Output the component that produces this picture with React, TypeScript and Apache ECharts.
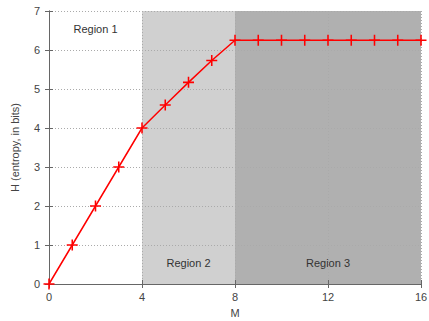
import React, { useEffect, useRef } from "react";
import * as echarts from "echarts";

const mValues = [0, 1, 2, 3, 4, 5, 6, 7, 8, 9, 10, 11, 12, 13, 14, 15, 16];
const entropy = [0, 1, 2, 3, 4, 4.59, 5.17, 5.73, 6.25, 6.25, 6.25, 6.25, 6.25, 6.25, 6.25, 6.25, 6.25];
const regions = [
  { name: "Region 1", from: 0, to: 4, color: "rgba(255,255,255,0)", pos: "insideTop" },
  { name: "Region 2", from: 4, to: 8, color: "#d0d0d0", pos: "insideBottom" },
  { name: "Region 3", from: 8, to: 16, color: "#b0b0b0", pos: "insideBottom" },
];

const plusPath = "path://M4.3,0H5.7V10H4.3Z M0,4.3H10V5.7H0Z";

export default function App() {
  const ref = useRef<HTMLDivElement>(null);
  useEffect(() => {
    const chart = echarts.init(ref.current!, null, { renderer: "svg" });
    const font = "'Liberation Sans', Arial, sans-serif";
    const axisCommon = {
      z: 3,
      axisLine: { show: true, lineStyle: { color: "#666", width: 1 } },
      axisTick: { show: true, inside: true, length: 4, lineStyle: { color: "#666" } },
      axisLabel: { color: "#444", fontSize: 11, fontFamily: font },
      splitLine: { show: true, lineStyle: { color: "#aaa", type: [1, 2], width: 1 } },
      nameTextStyle: { color: "#444", fontSize: 11, fontFamily: font },
    };
    chart.setOption({
      animation: false,
      grid: { left: 49, right: 8, top: 11, bottom: 37, show: false, containLabel: false, outerBoundsMode: "none" },
      xAxis: [
        {
          ...axisCommon,
          type: "value",
          min: 0,
          max: 16,
          interval: 4,
          name: "M",
          nameLocation: "middle",
          nameGap: 23,
          axisLabel: { ...axisCommon.axisLabel, margin: 7 },
        },
        {
          type: "value",
          position: "top",
          min: 0,
          max: 16,
          interval: 4,
          z: 3,
          axisLine: { show: true, lineStyle: { color: "#666" } },
          axisTick: { show: true, inside: true, length: 4, lineStyle: { color: "#666" } },
          axisLabel: { show: false },
          splitLine: { show: false },
        },
      ],
      yAxis: [
        {
          ...axisCommon,
          type: "value",
          min: 0,
          max: 7,
          interval: 1,
          name: "H (entropy, in bits)",
          nameLocation: "middle",
          nameGap: 29,
          axisLabel: { ...axisCommon.axisLabel, margin: 9 },
        },
        {
          type: "value",
          position: "right",
          min: 0,
          max: 7,
          interval: 1,
          z: 3,
          axisLine: { show: true, lineStyle: { color: "#666" } },
          axisTick: { show: true, inside: true, length: 4, lineStyle: { color: "#666" } },
          axisLabel: { show: false },
          splitLine: { show: false },
        },
      ],
      series: [
        {
          type: "line",
          z: 1,
          data: [[0, 0]],
          symbol: "none",
          lineStyle: { width: 0, opacity: 0 },
          silent: true,
          markArea: {
            silent: true,
            z: 1,
            data: regions.map((r) => [
              {
                name: r.name,
                xAxis: r.from,
                yAxis: 0,
                itemStyle: { color: r.color },
                label: {
                  show: true,
                  position: r.pos,
                  distance: r.pos === "insideTop" ? 12 : 16,
                  color: "#333",
                  fontSize: 11,
                  fontFamily: font,
                },
              },
              { xAxis: r.to, yAxis: 7 },
            ]),
          },
        },
        {
          type: "line",
          z: 5,
          data: mValues.map((m, i) => [m, entropy[i]]),
          symbol: plusPath,
          symbolSize: 11,
          itemStyle: { color: "#ff0000" },
          lineStyle: { color: "#ff0000", width: 1.5 },
        },
      ],
    });
    return () => chart.dispose();
  }, []);
  return <div ref={ref} style={{ width: 429, height: 321, position: "absolute", left: 0, top: 0 }} />;
}
